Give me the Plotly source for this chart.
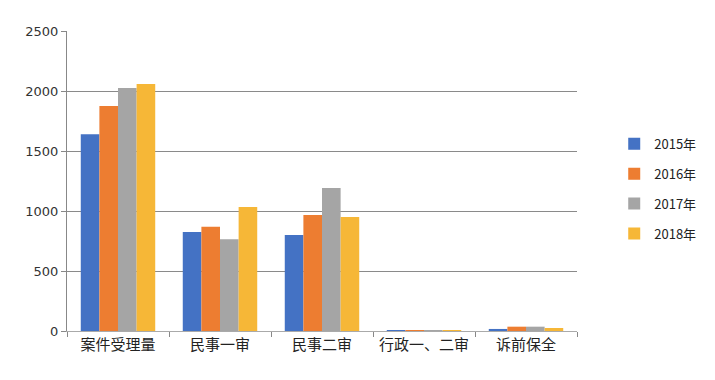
import plotly.graph_objects as go

categories = ["案件受理量", "民事一审", "民事二审", "行政一、二审", "诉前保全"]
series_names = ["2015年", "2016年", "2017年", "2018年"]
v2015 = [1640, 825, 800, 8, 17]
v2016 = [1875, 868, 967, 8, 36]
v2017 = [2025, 764, 1192, 8, 36]
v2018 = [2058, 1033, 950, 8, 25]
colors = ["#4472C4", "#ED7D31", "#A5A5A5", "#F6B737"]
y_ticks = [0, 500, 1000, 1500, 2000, 2500]

font_family = "Noto Sans CJK SC, DejaVu Sans, sans-serif"

fig = go.Figure()
for i, (name, vals) in enumerate(zip(series_names, [v2015, v2016, v2017, v2018])):
    fig.add_trace(go.Bar(x=categories, y=vals, name=name, marker_color=colors[i],
                         marker_line_width=0, legendgroup=name))

fig.update_layout(
    width=707, height=372,
    margin=dict(l=59, r=138, t=23, b=49, autoexpand=False),
    paper_bgcolor="white", plot_bgcolor="white",
    barmode="group", bargap=0.27, bargroupgap=0,
    font=dict(family=font_family, size=13, color="#222"),
    showlegend=True,
    legend=dict(x=1.073, y=0.474, xanchor="left", yanchor="middle",
                font=dict(size=13, color="#222"), tracegroupgap=10,
                itemwidth=30, bgcolor="rgba(0,0,0,0)"),
)
fig.update_xaxes(showline=True, linecolor="#aaaaaa", linewidth=1,
                 ticks="outside", tickson="boundaries", ticklen=5, tickcolor="#888888",
                 showgrid=False, tickfont=dict(size=15), automargin=False)
fig.update_yaxes(range=[0, 2500], tickvals=y_ticks, showline=True, linecolor="#888888",
                 linewidth=1, ticks="outside", ticklen=5, tickcolor="#888888",
                 showgrid=True, gridcolor="#8a8a8a", gridwidth=1, zeroline=False,
                 tickfont=dict(family="DejaVu Sans", size=13, color="#333"), automargin=False)

fig.write_html("out.html")
